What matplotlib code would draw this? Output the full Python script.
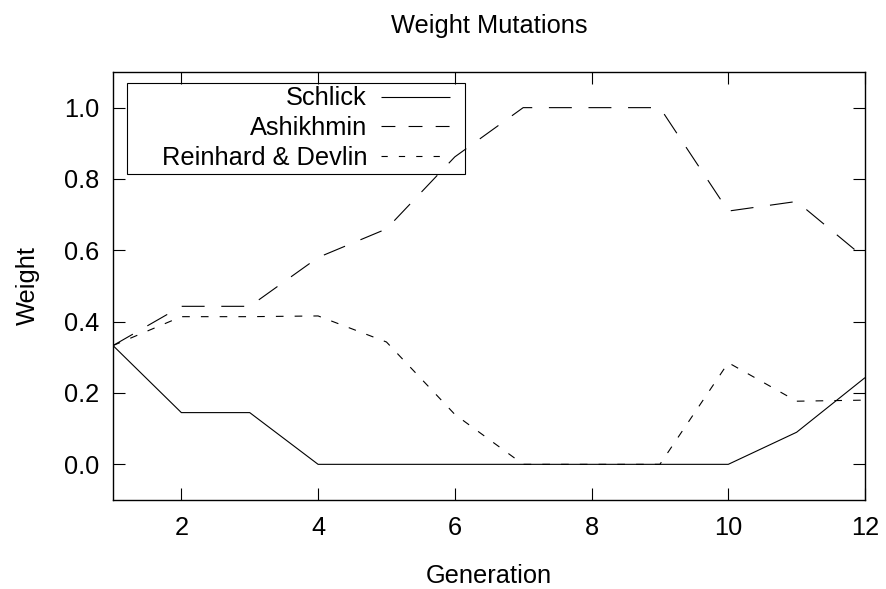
import matplotlib
matplotlib.use('Agg')
import matplotlib.pyplot as plt
from matplotlib.patches import Rectangle

plt.rcParams['font.family'] = ['Liberation Sans', 'DejaVu Sans']
plt.rcParams['lines.scale_dashes'] = False

# Weights per generation
generations = [1, 2, 3, 4, 5, 6, 7, 8, 9, 10, 11, 12]
schlick = [0.333, 0.145, 0.145, 0.0, 0.0, 0.0, 0.0, 0.0, 0.0, 0.0, 0.09, 0.243]
ashikhmin = [0.333, 0.443, 0.443, 0.58, 0.66, 0.862, 1.0, 1.0, 1.0, 0.71, 0.737, 0.578]
reinhard = [0.333, 0.414, 0.414, 0.416, 0.343, 0.14, 0.0, 0.0, 0.0, 0.285, 0.177, 0.18]

labels = ['Schlick', 'Ashikhmin', 'Reinhard & Devlin']
dash_styles = [(0, ()), (0, (16.5, 12.0)), (0, (5.5, 8.0))]
legend_dashes = [(0, ()), (0, (10.0, 9.5)), (0, (4.5, 8.0))]

fig = plt.figure(figsize=(8.87, 5.89), dpi=100)
ax = fig.add_axes([0.1274, 0.1511, 0.8478, 0.7267])

series = [schlick, ashikhmin, reinhard]
for vals, ls in zip(series, dash_styles):
    ax.plot(generations, vals, color='black', lw=0.8, linestyle=ls)

ax.set_xlim(1, 12)
ax.set_ylim(-0.1, 1.1)
ax.set_xticks([2, 4, 6, 8, 10, 12])
ax.set_yticks([0.0, 0.2, 0.4, 0.6, 0.8, 1.0])
ax.set_yticklabels(['%.1f' % v for v in [0.0, 0.2, 0.4, 0.6, 0.8, 1.0]])
ax.tick_params(direction='in', top=True, right=True, length=8.6, width=0.8,
               labelsize=18.3, pad=10)
ax.tick_params(axis='x', pad=11.5)
for sp in ax.spines.values():
    sp.set_linewidth(1.0)

ax.set_xlabel('Generation', fontsize=18.3, labelpad=17)
ax.set_ylabel('Weight', fontsize=18.3, labelpad=17)
fig.text(0.5513, 1 - 33 / 589, 'Weight Mutations', fontsize=18.3,
         ha='center', va='baseline')

# gnuplot-style key: right-aligned labels, samples on the right
ax.add_patch(Rectangle((0.0186, 0.762), 0.4495, 0.212, transform=ax.transAxes,
                       fill=False, edgecolor='black', lw=0.8, zorder=3))
text_y = [0.9229, 0.8528, 0.7827]
line_y = [0.9416, 0.8738, 0.8037]
for lab, ty, ly, ls in zip(labels, text_y, line_y, legend_dashes):
    ax.text(0.3378, ty, lab, transform=ax.transAxes, fontsize=18.3,
            ha='right', va='baseline')
    ax.plot([0.356, 0.448], [ly, ly], transform=ax.transAxes, color='black',
            lw=0.8, linestyle=ls)

fig.savefig('out.png', dpi=100)
